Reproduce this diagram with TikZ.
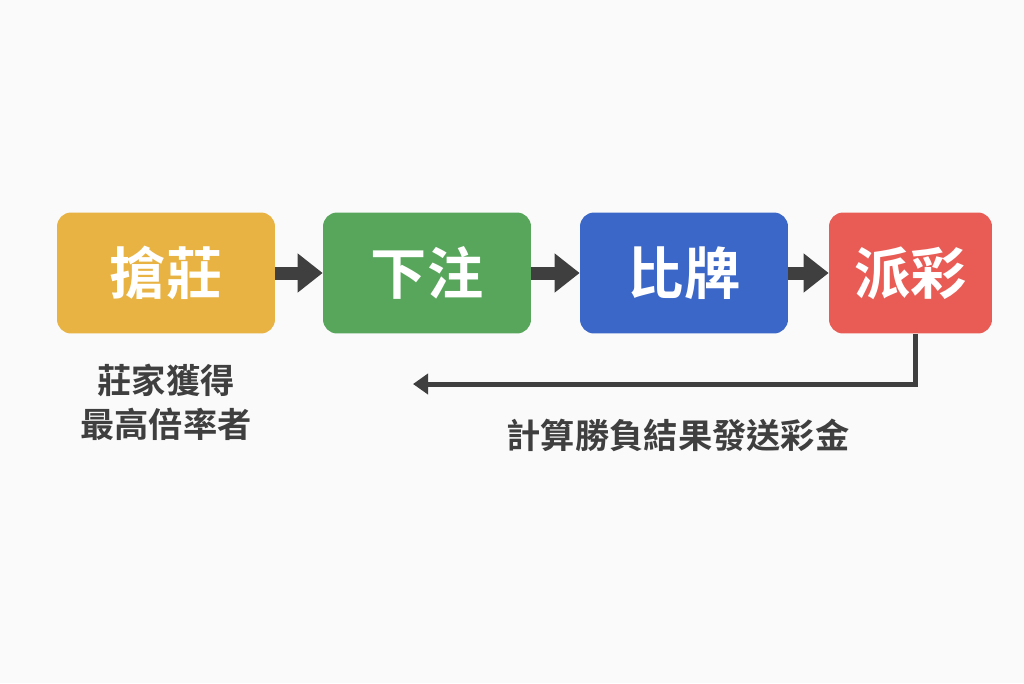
\documentclass[tikz,border=0pt]{standalone}
\usepackage{fontspec}
\newfontfamily\cjk{Noto Sans CJK TC Bold}
\usetikzlibrary{arrows.meta,positioning}
\definecolor{bgGray}{HTML}{FAFAFA}
\definecolor{stepGold}{HTML}{E8B342}
\definecolor{stepGreen}{HTML}{58A65C}
\definecolor{stepBlue}{HTML}{3A67C8}
\definecolor{stepRed}{HTML}{E95C55}
\definecolor{arrowDark}{HTML}{3F3F3F}
\begin{document}
\begin{tikzpicture}[x=0.02cm, y=-0.02cm,
                stage/.style={rectangle, rounded corners=8pt, minimum height=2.42cm, text=white, font=\cjk\fontsize{32}{38}\selectfont, align=center},
                flow/.style={draw=arrowDark, line width=0.26cm, -{Triangle[length=0.5cm, width=0.75cm]}},
                back/.style={draw=arrowDark, line width=0.1cm, -{Triangle[length=0.3cm, width=0.4cm]}},
                note/.style={text=arrowDark, font=\cjk\fontsize{19.5}{25}\selectfont, align=center}
            ]
            \fill[bgGray] (0,0) rectangle (1024,683);

            \node (grab) at (166,273) [stage, fill=stepGold, minimum width=4.36cm] {搶莊};
            \node (bet) at (427,273) [stage, fill=stepGreen, minimum width=4.16cm] {下注};
            \node (compare) at (684,273) [stage, fill=stepBlue, minimum width=4.16cm] {比牌};
            \node (payout) at (910.5,273) [stage, fill=stepRed, minimum width=3.26cm] {派彩};

            \draw[flow] (grab) -- (bet);
            \draw[flow] (bet) -- (compare);
            \draw[flow] (compare) -- (payout);

            \coordinate (turn) at (915,384);
            \coordinate (loopend) at (413,384);
            \draw[back] (payout.south -| turn) -- (turn) -- (loopend);

            \node (banker) at (166,402) [note] {莊家獲得\\最高倍率者};
            \node (settle) at (678,435) [note] {計算勝負結果發送彩金};
        \end{tikzpicture}
\end{document}
